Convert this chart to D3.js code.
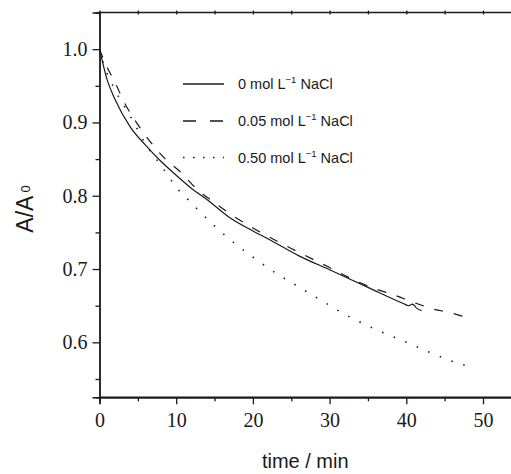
<!DOCTYPE html>
<html>
<head>
<meta charset="utf-8">
<script src="https://cdn.jsdelivr.net/npm/d3@7"></script>
<style>
  body { margin: 0; background: #fff; }
  svg { display: block; }
</style>
</head>
<body>
<script>
// curves: time (min) and A/A0
var t0 = [0, 1, 2, 4, 6, 8, 10, 12, 14, 17, 20, 22, 26, 30, 35, 39.6, 40.3, 40.8, 41.3, 42];
var a0 = [1.0, 0.958, 0.932, 0.894, 0.869, 0.847, 0.828, 0.810, 0.795, 0.770, 0.752, 0.741, 0.718, 0.699, 0.675, 0.653, 0.650, 0.652, 0.647, 0.643];

var t05 = [0, 1, 2, 3.3, 5, 6.3, 8.5, 10.7, 12.6, 14.8, 17.2, 20, 25, 30, 33, 35.7, 38.3, 41.1, 43.3, 45.9, 48.4];
var a05 = [1.0, 0.975, 0.955, 0.926, 0.897, 0.878, 0.851, 0.831, 0.810, 0.792, 0.774, 0.756, 0.728, 0.702, 0.686, 0.674, 0.665, 0.654, 0.646, 0.640, 0.632];

var t50 = [0, 0.5, 2, 4.15, 6.1, 8.1, 10.45, 11.9, 13.1, 15.5, 18, 20.7, 23.2, 25.6, 28.3, 32.2, 35.3, 38.2, 39.6, 42, 45, 47.8];
var a50 = [1.0, 0.981, 0.945, 0.906, 0.869, 0.840, 0.806, 0.791, 0.778, 0.754, 0.732, 0.711, 0.693, 0.678, 0.661, 0.637, 0.621, 0.608, 0.602, 0.591, 0.578, 0.568];

var xTicks = [0, 10, 20, 30, 40, 50];
var xMinor = [5, 15, 25, 35, 45];
var yTicks = [0.6, 0.7, 0.8, 0.9, 1.0];
var yMinor = [0.55, 0.65, 0.75, 0.85, 0.95];
var legendNames = ['0', '0.05', '0.50'];

var W = 511, H = 474;
var svg = d3.select('body').append('svg').attr('width', W).attr('height', H);

var x = d3.scaleLinear().domain([0, 54]).range([99.5, 99.5 + 7.67 * 54]);
var y = d3.scaleLinear().domain([0.525, 1.05]).range([397.3, 12.5]);

var ink = '#1a1a1a';
var serif = '"Liberation Serif", "Times New Roman", serif';
var sans = '"Liberation Sans", Arial, sans-serif';

// bottom axis
var xAxis = svg.append('g').attr('transform', 'translate(0,' + y.range()[0] + ')')
  .call(d3.axisBottom(x).tickValues(xTicks).tickSize(7).tickPadding(9).tickFormat(d3.format('d')));
svg.append('g').attr('transform', 'translate(0,' + y.range()[0] + ')')
  .call(d3.axisBottom(x).tickValues(xMinor).tickSize(4).tickFormat(''));

// left axis
var yAxis = svg.append('g').attr('transform', 'translate(' + x(0) + ',0)')
  .call(d3.axisLeft(y).tickValues(yTicks).tickSize(7).tickPadding(5).tickFormat(d3.format('.1f')));
svg.append('g').attr('transform', 'translate(' + x(0) + ',0)')
  .call(d3.axisLeft(y).tickValues(yMinor).tickSize(4).tickFormat(''));

// top axis: small marks straddling the line
var topAxis = svg.append('g').attr('transform', 'translate(0,' + (y.range()[1] + 2) + ')')
  .call(d3.axisTop(x).tickValues(xTicks.concat(xMinor)).tickSize(4).tickFormat(''));

svg.selectAll('.domain').attr('stroke', ink).attr('stroke-width', 1.4);
svg.selectAll('.tick line').attr('stroke', ink).attr('stroke-width', 1.3);
topAxis.select('.domain').remove();
svg.append('line')
  .attr('x1', x(0) - 1).attr('x2', W).attr('y1', y.range()[1]).attr('y2', y.range()[1])
  .attr('stroke', ink).attr('stroke-width', 1.4);
// extend the bottom line to the window edge like the original
svg.append('line')
  .attr('x1', x(0)).attr('x2', W).attr('y1', y.range()[0]).attr('y2', y.range()[0])
  .attr('stroke', ink).attr('stroke-width', 1.4);

svg.selectAll('.tick text').attr('font-family', serif).attr('font-size', 20).attr('fill', ink);

// axis titles
svg.append('text')
  .attr('x', (x(0) + W) / 2).attr('y', 468)
  .attr('text-anchor', 'middle')
  .attr('font-family', sans).attr('font-size', 20).attr('fill', ink)
  .text('time / min');

var yl = svg.append('text')
  .attr('transform', 'translate(33,' + 209 + ') rotate(-90)')
  .attr('text-anchor', 'middle')
  .attr('font-family', sans).attr('font-size', 23).attr('fill', ink);
yl.append('tspan').text('A/A');
yl.append('tspan').attr('dx', 3).attr('dy', -3).attr('font-size', 13).text('0');

// curves
var line = d3.line().x(function (d) { return x(d[0]); }).y(function (d) { return y(d[1]); }).curve(d3.curveMonotoneX);

var series = [
  { t: t0, a: a0, dash: null, legDash: null },
  { t: t05, a: a05, dash: '9,11', legDash: '13,14' },
  { t: t50, a: a50, dash: '1.5,11', legDash: '1.5,8.5' }
];

series.forEach(function (s) {
  svg.append('path')
    .datum(d3.zip(s.t, s.a))
    .attr('d', line)
    .attr('fill', 'none')
    .attr('stroke', ink)
    .attr('stroke-width', s.dash === '1.5,11' ? 1.6 : 1.2)
    .attr('stroke-dasharray', s.dash);
});

// legend
var rowY = [84, 121, 157.5];
var leg = svg.append('g');
series.forEach(function (s, i) {
  leg.append('line')
    .attr('x1', 183).attr('x2', 224).attr('y1', rowY[i]).attr('y2', rowY[i])
    .attr('stroke', ink).attr('stroke-width', i === 2 ? 1.6 : 1.3)
    .attr('stroke-dasharray', s.legDash);
  var tx = leg.append('text')
    .attr('x', 238).attr('y', rowY[i] + 5)
    .attr('font-family', sans).attr('font-size', 14.5).attr('fill', ink);
  tx.append('tspan').text(legendNames[i] + ' mol L');
  tx.append('tspan').attr('dy', -6).attr('font-size', 9.5).text('\u22121');
  tx.append('tspan').attr('dy', 6).text(' NaCl');
});
</script>
</body>
</html>
